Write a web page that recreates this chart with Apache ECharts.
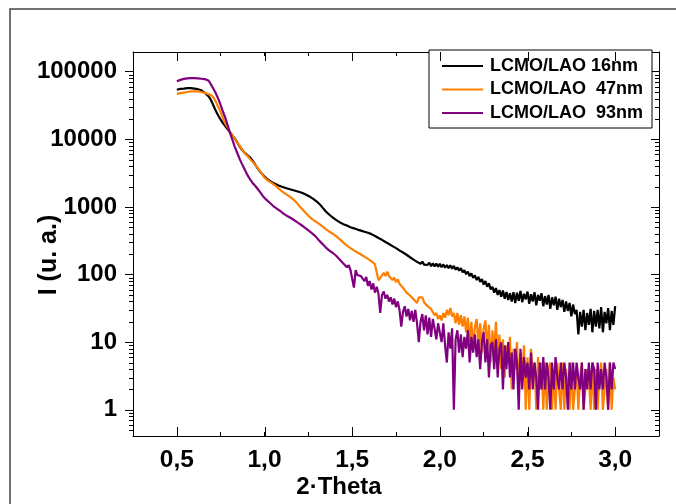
<!DOCTYPE html>
<html>
<head>
<meta charset="utf-8">
<script src="https://cdn.jsdelivr.net/npm/echarts@6/dist/echarts.min.js"></script>
<style>
html, body { margin: 0; padding: 0; background: #fff; }
#chart { width: 676px; height: 504px; }
</style>
</head>
<body>
<div id="chart"></div>
<script>
// X-ray reflectivity of LCMO films on LAO, one reading every 0.01 deg (2-Theta) from 0.50 to 3.00
const scanStart = 0.5;
const scanStep = 0.01;

const black16 = [
  54000, 55000, 55500, 56000, 56000, 56500, 57000, 57000, 57000, 56500,
  56000, 55500, 55000, 54500, 53000, 51000, 48500, 46000, 43500, 40000,
  35500, 31000, 27000, 24000, 21500, 19500, 17800, 16400, 15100, 14000,
  13000, 12000, 11100, 10300, 9400, 8500, 7700, 7100, 6600, 6200,
  5900, 5600, 5300, 4900, 4500, 4100, 3750, 3450, 3200, 3000,
  2820, 2650, 2520, 2420, 2340, 2260, 2190, 2130, 2070, 2020,
  1980, 1940, 1900, 1870, 1840, 1800, 1780, 1750, 1720, 1690,
  1660, 1620, 1590, 1540, 1500, 1460, 1410, 1350, 1300, 1250,
  1190, 1120, 1060, 985, 925, 855, 815, 765, 735, 695,
  675, 636, 628, 590, 592, 555, 558, 530, 532, 500,
  505, 482, 487, 462, 468, 446, 455, 430, 438, 414,
  420, 396, 401, 372, 378, 347, 353, 326, 331, 303,
  308, 283, 291, 263, 272, 246, 253, 227, 236, 212,
  218, 196, 200, 180, 184, 166, 171, 154, 162, 144,
  155, 140, 147, 139, 149, 133, 146, 132, 145, 130,
  144, 128, 141, 126, 138, 124, 137, 122, 134, 118,
  128, 114, 124, 108, 116, 101, 110, 95, 104, 89,
  97, 83, 92, 78, 86, 71, 80, 66, 74, 60,
  66, 54, 63, 50, 59, 47, 58, 44, 55, 42,
  53, 40, 55, 38, 54, 41, 57, 39, 52, 43,
  56, 37, 51, 40, 55, 35, 50, 41, 53, 34,
  48, 36, 50, 31, 46, 35, 47, 30, 44, 33,
  42, 28, 40, 29, 38, 24, 36, 26, 30, 13,
  28, 17, 30, 15, 27, 18, 31, 14, 29, 17,
  30, 16, 33, 14, 28, 19, 32, 15, 29, 18,
  34
];

const orange47 = [
  47000, 47500, 48000, 48500, 49000, 49500, 50000, 50500, 51000, 51000,
  51000, 51000, 51000, 50500, 50000, 49500, 48500, 47500, 46500, 45500,
  44000, 41000, 37000, 32500, 28500, 25000, 21500, 18500, 16500, 15000,
  13300, 12000, 11000, 10100, 9300, 8600, 7900, 7200, 6600, 6100,
  5800, 5400, 5000, 4700, 4400, 4100, 3800, 3500, 3200, 2950,
  2700, 2550, 2450, 2350, 2260, 2180, 2080, 1980, 1880, 1780,
  1700, 1620, 1560, 1500, 1440, 1380, 1320, 1250, 1180, 1100,
  1020, 960, 900, 840, 790, 740, 700, 665, 635, 610,
  590, 565, 540, 515, 490, 468, 448, 430, 415, 400,
  385, 366, 356, 331, 322, 296, 289, 268, 264, 246,
  246, 228, 232, 212, 218, 198, 204, 184, 189, 170,
  176, 156, 162, 142, 146, 82, 89, 91, 106, 95,
  110, 95, 99, 83, 90, 77, 85, 73, 73, 64,
  63, 54, 56, 49, 50, 43, 44, 38, 46, 43,
  46, 39, 40, 34, 36, 31, 31, 25, 27, 22,
  25, 21, 27, 23, 30, 25, 32, 24, 27, 19,
  27, 18, 25, 17, 24,
  14, 23, 10, 20, 8, 17, 22, 9, 19, 7,
  16, 21, 8, 18, 5, 15, 7, 20, 6, 13,
  4, 11, 3, 9, 5, 12, 2, 8, 4, 10,
  2, 7, 3, 9, 1, 6, 1, 8, 3, 5,
  1, 6, 2, 5, 1, 5, 1, 4, 5, 1,
  4, 1, 5, 2, 1, 5, 1, 4, 2, 1,
  5, 1, 1, 4, 1, 3, 5, 1, 2, 4,
  3, 1, 5, 1, 4, 1, 3, 5, 1, 1,
  4, 1, 5, 1, 3, 2
];

const purple93 = [
  72000, 74000, 75500, 77000, 78000, 79000, 79500, 80000, 80000, 80000,
  80000, 80000, 79500, 79000, 78500, 78000, 77500, 77000, 74000, 68000,
  61000, 55000, 49000, 43000, 37500, 32000, 27000, 23000, 19500, 16000,
  13200, 11000, 9300, 7800, 6700, 5800, 5000, 4400, 3900, 3450,
  3050, 2750, 2500, 2300, 2150, 2000, 1870, 1720, 1580, 1450,
  1360, 1280, 1210, 1150, 1090, 1030, 985, 945, 905, 870,
  820, 790, 760, 735, 710, 685, 660, 635, 610, 585,
  560, 540, 515, 495, 470, 450, 430, 410, 390, 370,
  350, 322, 312, 284, 279, 250, 252, 226, 230, 208,
  210, 188, 188, 166, 170, 146, 156, 128, 138, 118,
  126, 64, 116, 98, 104, 95, 98, 80, 92, 68,
  80, 60, 74, 54, 66, 52, 27, 50, 56, 44,
  50, 40, 46, 36, 44, 33, 40, 30, 17, 28,
  34, 24, 31, 21, 29, 20, 30, 19, 10, 20,
  26, 15, 25, 13, 23, 12, 22, 16, 11, 19,
  18, 10, 19, 9, 5, 14, 8, 16, 1, 11,
  15, 7, 13, 6, 12, 8, 15, 5, 12, 7,
  13, 6, 11, 4, 10, 14, 5, 11, 3, 9,
  10, 4, 11, 3, 8, 10, 2, 9, 4, 10,
  3, 7, 2, 8, 5, 1, 8, 2, 6, 3,
  5, 2, 7, 2, 5, 3, 1, 5, 2, 6,
  2, 5, 3, 1, 5, 2, 6, 3, 2, 5,
  2, 5, 3, 1, 5, 2, 5, 2, 5, 3,
  2, 5, 1, 4, 2, 5, 2, 5, 4, 1,
  5, 2, 4, 2, 5, 3, 1, 5, 2, 5,
  4
];

const seriesNames = ['LCMO/LAO 16nm', 'LCMO/LAO  47nm', 'LCMO/LAO  93nm'];
const seriesColors = ['#000000', '#ff8000', '#800080'];

const xTickValues = [0.5, 1.0, 1.5, 2.0, 2.5, 3.0];
const xTickLabels = ['0,5', '1,0', '1,5', '2,0', '2,5', '3,0'];
const yTickValues = [1, 10, 100, 1000, 10000, 100000];
const yTickLabels = ['1', '10', '100', '1000', '10000', '100000'];

const xMin = 0.25, xMax = 3.25;
const yMin = 0.41, yMax = 195000;

// minor ticks of the log axis: 2..9 within each decade
const yMinorTicks = [];
for (let e = -1; e <= 5; e++) {
  for (let m = 2; m <= 9; m++) {
    const v = m * Math.pow(10, e);
    if (v > yMin && v < yMax) yMinorTicks.push(v);
  }
}

const toPairs = arr => arr.map((v, i) => [Math.round((scanStart + i * scanStep) * 100) / 100, v]);

const font = 'Arial, "Liberation Sans", sans-serif';
const tickText = { color: '#000', fontFamily: font, fontWeight: 'bold', fontSize: 24.5 };
const titleText = { color: '#000', fontFamily: font, fontWeight: 'bold', fontSize: 24 };
const axisLineStyle = { color: '#000', width: 1 };

function labelFor(values, labels, v, tol) {
  const k = values.findIndex(t => Math.abs(t - v) <= tol * Math.max(1, Math.abs(t)));
  return k < 0 ? '' : labels[k];
}

const crisp = p => Math.round(p) + 0.5;
const tickStyle = { stroke: '#000', lineWidth: 1 };

// long ticks at the labelled 2-Theta values, bottom and top edges (pointing inward)
function renderXMajor(params, api) {
  const cs = params.coordSys;
  const px = crisp(api.coord([api.value(0), 1])[0]);
  const yb = cs.y + cs.height, yt = cs.y;
  return {
    type: 'group',
    children: [
      { type: 'line', shape: { x1: px, y1: yb, x2: px, y2: yb - 9 }, style: tickStyle },
      { type: 'line', shape: { x1: px, y1: yt, x2: px, y2: yt + 9 }, style: tickStyle }
    ]
  };
}

// short ticks at 2..9 of every decade, left (outside) and right (inside)
function renderYMinor(params, api) {
  const cs = params.coordSys;
  const py = crisp(api.coord([xMin, api.value(1)])[1]);
  const xl = cs.x, xr = cs.x + cs.width;
  return {
    type: 'group',
    children: [
      { type: 'line', shape: { x1: xl - 4, y1: py, x2: xl, y2: py }, style: tickStyle },
      { type: 'line', shape: { x1: xr, y1: py, x2: xr - 4, y2: py }, style: tickStyle }
    ]
  };
}

const chart = echarts.init(document.getElementById('chart'), null, { renderer: 'canvas' });

const lineSeries = [black16, orange47, purple93].map((vals, i) => ({
  name: seriesNames[i],
  type: 'line',
  data: toPairs(vals),
  showSymbol: false,
  symbol: 'none',
  color: seriesColors[i],
  lineStyle: { color: seriesColors[i], width: 2.2 },
  z: 2 + i
}));

chart.setOption({
  animation: false,
  backgroundColor: '#ffffff',
  grid: { left: 133, right: 17, top: 52, bottom: 68, containLabel: false },
  graphic: [{
    type: 'rect',
    shape: { x: 10, y: 9, width: 720, height: 540 },
    style: { fill: 'none', stroke: '#444', lineWidth: 1.5 },
    silent: true
  }],
  legend: {
    data: seriesNames,
    orient: 'vertical',
    left: 429,
    top: 50,
    icon: 'rect',
    itemWidth: 41,
    itemHeight: 2,
    itemGap: 5.5,
    padding: [7, 9, 6, 13],
    borderColor: '#000',
    borderWidth: 1,
    backgroundColor: '#fff',
    selectedMode: false,
    textStyle: { color: '#000', fontFamily: font, fontWeight: 'bold', fontSize: 18, padding: [0, 0, 0, 2] }
  },
  xAxis: [
    {
      type: 'value', position: 'bottom', min: xMin, max: xMax, interval: 0.25,
      axisLine: { show: true, onZero: false, lineStyle: axisLineStyle },
      axisTick: { show: true, inside: true, length: 4, lineStyle: { color: '#000' } },
      splitLine: { show: false },
      axisLabel: {
        ...tickText, margin: 12, showMinLabel: false, showMaxLabel: false,
        formatter: v => labelFor(xTickValues, xTickLabels, v, 1e-6)
      },
      name: '2·Theta', nameLocation: 'middle', nameGap: 39, nameMoveOverlap: false,
      nameTextStyle: { ...titleText, padding: [0, 114, 0, 0] }
    },
    {
      type: 'value', position: 'top', min: xMin, max: xMax, interval: 0.25,
      axisLine: { show: true, onZero: false, lineStyle: axisLineStyle },
      axisTick: { show: true, inside: true, length: 4, lineStyle: { color: '#000' } },
      splitLine: { show: false },
      axisLabel: { show: false }
    }
  ],
  yAxis: [
    {
      type: 'log', logBase: 10, position: 'left', min: yMin, max: yMax,
      axisLine: { show: true, lineStyle: axisLineStyle },
      axisTick: { show: true, inside: false, length: 8, lineStyle: { color: '#000' } },
      minorTick: { show: false },
      splitLine: { show: false },
      axisLabel: {
        ...tickText, fontSize: 24, margin: 16, showMinLabel: false, showMaxLabel: false,
        formatter: v => labelFor(yTickValues, yTickLabels, v, 1e-6)
      },
      name: 'I (u. a.)', nameLocation: 'middle', nameGap: 71, nameMoveOverlap: false,
      nameTextStyle: { ...titleText, fontSize: 25, padding: [0, 22, 0, 0] }
    },
    {
      type: 'log', logBase: 10, position: 'right', min: yMin, max: yMax,
      axisLine: { show: true, lineStyle: axisLineStyle },
      axisTick: { show: true, inside: true, length: 8, lineStyle: { color: '#000' } },
      minorTick: { show: false },
      splitLine: { show: false },
      axisLabel: { show: false }
    }
  ],
  series: [
    ...lineSeries,
    {
      type: 'custom', name: 'xMajorTicks', silent: true, clip: false, z: 6,
      xAxisIndex: 0, yAxisIndex: 0,
      data: xTickValues.map(v => [v, 1]),
      renderItem: renderXMajor
    },
    {
      type: 'custom', name: 'yMinorTicks', silent: true, clip: false, z: 6,
      xAxisIndex: 0, yAxisIndex: 0,
      data: yMinorTicks.map(v => [xMin, v]),
      renderItem: renderYMinor
    }
  ]
});
</script>
</body>
</html>
